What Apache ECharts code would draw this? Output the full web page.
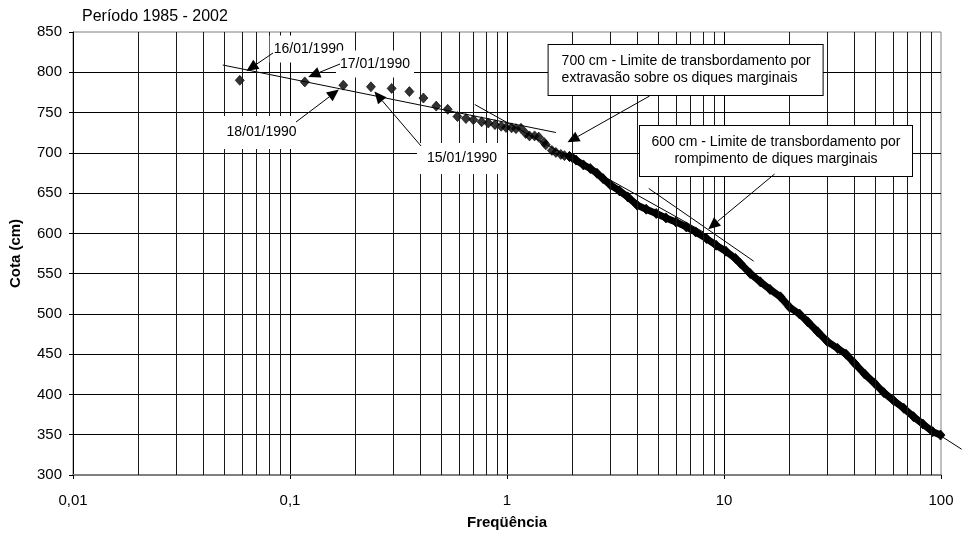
<!DOCTYPE html>
<html>
<head>
<meta charset="utf-8">
<script src="https://cdn.jsdelivr.net/npm/echarts@6/dist/echarts.min.js"></script>
<style>
html,body{margin:0;padding:0;background:#fff;}
#chart{width:964px;height:541px;}
</style>
</head>
<body>
<div id="chart"></div>
<script>
// ---------------- DATA ----------------
const titleText = 'Período 1985 - 2002';
const xAxisName = 'Freqüência';
const yAxisName = 'Cota (cm)';

const xTickValues = [0.01, 0.1, 1, 10, 100];
const xTickLabels = ['0,01', '0,1', '1', '10', '100'];
const minorGridValues = [0.02,0.03,0.04,0.05,0.06,0.07,0.08,0.09,
                         0.2,0.3,0.4,0.5,0.6,0.7,0.8,0.9,
                         2,3,4,5,6,7,8,9,
                         20,30,40,50,60,70,80,90];

// isolated diamonds (frequency %, cota cm)
const earlyFreq = [0.0587,0.117,0.176,0.236,0.294,0.355,0.412,0.472,0.533,0.591,0.647,0.70,0.764,0.82,0.88,0.94,0.99,1.05,1.10,1.16,1.22,1.27,1.34,1.40,1.48,1.51,1.61,1.68,1.77,1.84,1.94];
const earlyCota = [790,788,784,782,780,776,768,758,754,745,742.5,741,738.5,737,735,733,731.5,731,730,730.5,724,721,721,719.5,713,710,703,700.5,698,696.5,695.5];

// dense part of the curve (overlapping diamonds forming a thick band)
const bandFreq = [1.94,2.0,2.08,2.25,2.42,2.6,2.77,3.0,3.3,3.6,3.98,4.38,4.87,5.4,6.0,6.7,7.4,8.3,9.2,10.2,11.3,11.9,13.2,14.7,16.3,18.2,20.1,22.3,24.3,27.0,30.0,33.4,36.5,40.0,44.5,49.5,54.6,60.6,67.4,74.7,82.5,91.6,99.5];
const bandCota = [695.5,694,691,685,680.5,674.5,668,660,652.7,645.3,635,630,624.7,619.2,614.2,608,601.8,593.6,585.3,577.9,568.8,562.7,550.2,539.8,530.4,521.2,508.1,499.8,490.2,477.8,465.4,457.2,450,438.6,425.3,413.8,402.2,392.2,382.8,372.4,363.3,353.8,349.6];

// trend lines
const trend1Freq = [0.049, 1.68];  const trend1Cota = [809, 725.2];
const trend2Freq = [0.71, 8.0];    const trend2Cota = [760, 602];
const trend3Freq = [4.5, 13.7];    const trend3Cota = [655.7, 565.5];
const trend4Freq = [75, 124.5];    const trend4Cota = [370, 332];   // runs past the right edge of the plot

// annotation texts and the data points their arrows aim at
const noteTexts = ['16/01/1990', '17/01/1990', '18/01/1990', '15/01/1990',
  '700 cm - Limite de transbordamento por\nextravasão sobre os diques marginais',
  '600 cm - Limite de transbordamento por\nrompimento de diques marginais'];
const noteTipFreq = [0.063, 0.1214, 0.168, 0.245, 1.9, 8.46];
const noteTipCota = [801.5, 794.2, 778.5, 776, 713, 605.2];

// ---------------- CHART ----------------
const zip = (a, b) => a.map((v, i) => [v, b[i]]);
const FONT = '"Liberation Sans", Arial, sans-serif';

const chart = echarts.init(document.getElementById('chart'), null, {renderer: 'canvas'});

function trendSeries(f, c) {
  return {
    type: 'line', data: zip(f, c), symbol: 'none',
    lineStyle: {color: '#000', width: 1}, z: 4, silent: true, animation: false
  };
}

const option = {
  backgroundColor: '#fff',
  animation: false,
  title: {
    text: titleText, left: 77, top: 4,
    textStyle: {fontFamily: FONT, fontSize: 16, fontWeight: 'normal', color: '#000'}
  },
  grid: {left: 73, top: 32, width: 868, height: 443, show: true,
         borderColor: '#808080', borderWidth: 1, backgroundColor: 'transparent'},
  xAxis: {
    type: 'log', logBase: 10, min: 0.01, max: 100,
    name: xAxisName, nameLocation: 'middle', nameGap: 40,
    nameTextStyle: {fontFamily: FONT, fontSize: 15, fontWeight: 'bold', color: '#000'},
    axisLine: {show: true, lineStyle: {color: '#808080', width: 2}},
    axisTick: {show: true, length: 4, lineStyle: {color: '#000'}},
    axisLabel: {
      margin: 18, fontFamily: FONT, fontSize: 15, color: '#000',
      formatter: v => {
        const i = xTickValues.findIndex(t => Math.abs(Math.log10(t) - Math.log10(v)) < 1e-6);
        return i >= 0 ? xTickLabels[i] : '';
      }
    },
    splitLine: {show: true, showMinLine: false, showMaxLine: false, lineStyle: {color: '#000', width: 1}},
    minorTick: {show: false}, minorSplitLine: {show: false}
  },
  yAxis: {
    type: 'value', min: 300, max: 850, interval: 50,
    name: yAxisName, nameLocation: 'middle', nameGap: 50,
    nameTextStyle: {fontFamily: FONT, fontSize: 15, fontWeight: 'bold', color: '#000'},
    axisLine: {show: true, lineStyle: {color: '#000', width: 1}},
    axisTick: {show: true, length: 4, lineStyle: {color: '#000'}},
    axisLabel: {margin: 11, fontFamily: FONT, fontSize: 15, color: '#000'},
    splitLine: {show: true, showMinLine: false, showMaxLine: false, lineStyle: {color: '#000', width: 1}}
  },
  series: [
    {
      type: 'line', data: [], z: 1, silent: true,
      markLine: {
        silent: true, symbol: ['none', 'none'], animation: false,
        label: {show: false},
        lineStyle: {color: '#1a1a1a', width: 1, type: 'solid'},
        emphasis: {disabled: true},
        data: minorGridValues.map(v => ({xAxis: v}))
      }
    },
    {
      type: 'scatter', data: zip(earlyFreq, earlyCota), symbol: 'diamond',
      symbolSize: [9, 10], itemStyle: {color: '#000', borderColor: '#000', borderWidth: 0.8},
      z: 3, silent: true
    },
    {
      type: 'line', data: zip(bandFreq, bandCota), symbol: 'diamond', showSymbol: true,
      symbolSize: [9, 10], itemStyle: {color: '#000', borderColor: '#000', borderWidth: 0.8},
      lineStyle: {color: '#000', width: 7}, z: 3, silent: true
    },
    trendSeries(trend1Freq, trend1Cota),
    trendSeries(trend2Freq, trend2Cota),
    trendSeries(trend3Freq, trend3Cota)
  ]
};
chart.setOption(option);

// ---------------- ANNOTATIONS ----------------
const toPx = (f, c) => chart.convertToPixel({xAxisIndex: 0, yAxisIndex: 0}, [f, c]);

// label layout (pixel positions of the text boxes and arrow tails)
const noteLayout = [
  {x: 308.7, y: 49,   align: 'center', pad: [5, 4],  tail: [273, 53]},
  {x: 375,   y: 64,   align: 'center', pad: [5, 4],  tail: [340, 64]},
  {x: 261.6, y: 132.5,align: 'center', pad: [8, 4],  tail: [296, 122]},
  {x: 462,   y: 158.5,align: 'center', pad: [7, 10], tail: [421, 146]},
  {x: 548.6, y: 45,   align: 'left', box: true, width: 249, pad: [8, 12, 8, 13], top: true, tail: [649.6, 96]},
  {x: 776,   y: 126,  align: 'center', box: true, width: 248, pad: [8, 12, 8, 12], top: true, tail: [774.6, 174]}
];

function arrowElems(tail, tip) {
  const dx = tip[0] - tail[0], dy = tip[1] - tail[1];
  const len = Math.sqrt(dx * dx + dy * dy);
  const ux = dx / len, uy = dy / len;
  const L = 12, W = 5.5;
  const bx = tip[0] - ux * L, by = tip[1] - uy * L;
  return [
    {type: 'line', z: 110, silent: true,
     shape: {x1: tail[0], y1: tail[1], x2: bx, y2: by},
     style: {stroke: '#000', lineWidth: 1}},
    {type: 'polygon', z: 111, silent: true,
     shape: {points: [[tip[0], tip[1]], [bx - uy * W, by + ux * W], [bx + uy * W, by - ux * W]]},
     style: {fill: '#000'}}
  ];
}

const elems = [];
// trend line of the lower segment, extended beyond the plot's right edge
elems.push({
  type: 'polyline', z: 5, silent: true,
  shape: {points: trend4Freq.map((f, i) => toPx(f, trend4Cota[i]))},
  style: {stroke: '#000', lineWidth: 1, fill: null}
});
noteTexts.forEach((t, i) => {
  const lay = noteLayout[i];
  const style = {
    text: t, font: '14px ' + FONT, fill: '#000',
    align: lay.align, verticalAlign: lay.top ? 'top' : 'middle',
    backgroundColor: '#fff', padding: lay.pad, lineHeight: 17
  };
  if (lay.box) { style.borderColor = '#000'; style.borderWidth = 1; style.width = lay.width; }
  elems.push({type: 'text', x: lay.x, y: lay.y, z: 100, silent: true, style: style});
  arrowElems(lay.tail, toPx(noteTipFreq[i], noteTipCota[i])).forEach(e => elems.push(e));
});
chart.setOption({graphic: {elements: elems}});
</script>
</body>
</html>
